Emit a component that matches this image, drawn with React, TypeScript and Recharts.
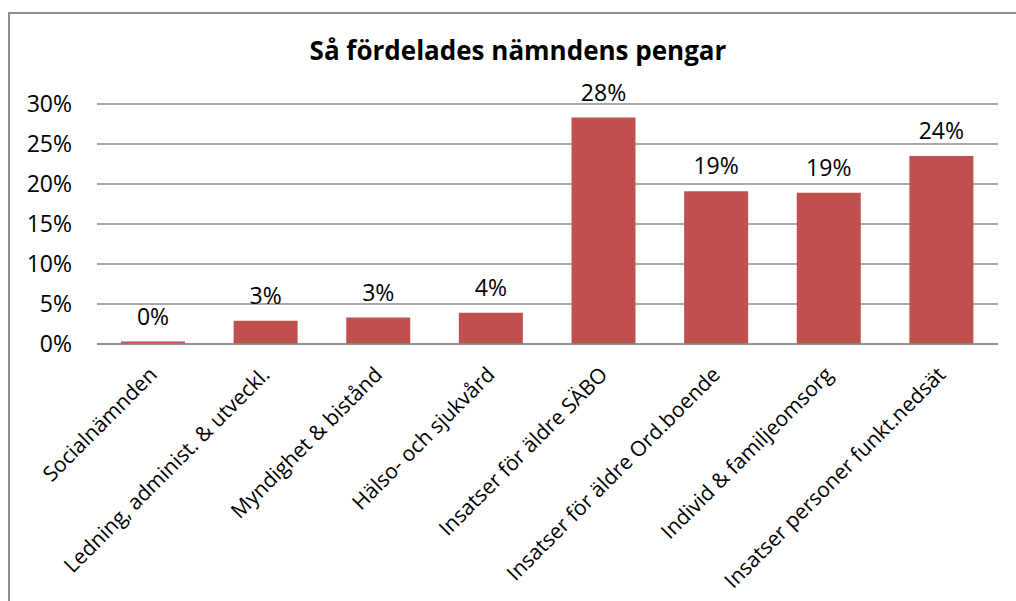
import React from "react";
import { BarChart, Bar, XAxis, YAxis, CartesianGrid, LabelList } from "recharts";

const categories = [
  "Socialnämnden",
  "Ledning, administ. & utveckl.",
  "Myndighet & bistånd",
  "Hälso- och sjukvård",
  "Insatser för äldre SÄBO",
  "Insatser för äldre Ord.boende",
  "Individ & familjeomsorg",
  "Insatser personer funkt.nedsät",
];
const shares = [0.003, 0.029, 0.033, 0.039, 0.283, 0.191, 0.189, 0.235];
const yTicks = [0, 0.05, 0.1, 0.15, 0.2, 0.25, 0.3];
const title = "Så fördelades nämndens pengar";

const data = categories.map((name, i) => ({ name, value: shares[i] }));

const FONT = "'Open Sans', sans-serif";

const pct = (v: number) => `${Math.round(v * 100)}%`;

const XTick = (props: any) => {
  const { x, y, payload } = props;
  const px = x + 5;
  const py = y + 24;
  return (
    <text
      x={px}
      y={py}
      transform={`rotate(-45, ${px}, ${py})`}
      textAnchor="end"
      fontFamily={FONT}
      fontSize={21}
      fill="#000"
    >
      {payload.value}
    </text>
  );
};

export default function App() {
  return (
    <div
      style={{
        position: "absolute",
        left: 0,
        top: 0,
        width: 1016,
        height: 601,
        overflow: "hidden",
        background: "#fff",
      }}
    >
      <div
        style={{
          position: "absolute",
          left: 8,
          top: 12,
          width: 1200,
          height: 800,
          border: "2px solid #8f8f8f",
          boxSizing: "border-box",
        }}
      />
      <div
        style={{
          position: "absolute",
          left: 0,
          top: 34,
          width: 1036,
          textAlign: "center",
          fontFamily: FONT,
          fontWeight: 700,
          fontSize: 26,
          color: "#000",
          lineHeight: "32px",
        }}
      >
        {title}
      </div>
      <div style={{ position: "absolute", left: 0, top: 0 }}>
        <BarChart
          width={1016}
          height={601}
          data={data}
          margin={{ top: 104, right: 18, bottom: 0, left: 0 }}
          barSize={64}
        >
          <CartesianGrid vertical={false} stroke="#8c8c8c" strokeWidth={1.5} />
          <XAxis
            dataKey="name"
            height={257}
            interval={0}
            tickLine={false}
            axisLine={{ stroke: "#8c8c8c", strokeWidth: 1.5 }}
            tick={<XTick />}
          />
          <YAxis
            width={97}
            domain={[0, 0.3]}
            ticks={yTicks}
            tickFormatter={pct}
            axisLine={false}
            tickLine={false}
            tickSize={0}
            tickMargin={25}
            tick={{ fontFamily: FONT, fontSize: 23, fill: "#000" }}
          />
          <Bar dataKey="value" fill="#C0504D" isAnimationActive={false}>
            <LabelList
              dataKey="value"
              position="top"
              offset={17}
              formatter={(v: any) => pct(Number(v))}
              style={{ fontFamily: FONT, fontSize: 23, fill: "#000" }}
            />
          </Bar>
        </BarChart>
      </div>
    </div>
  );
}
